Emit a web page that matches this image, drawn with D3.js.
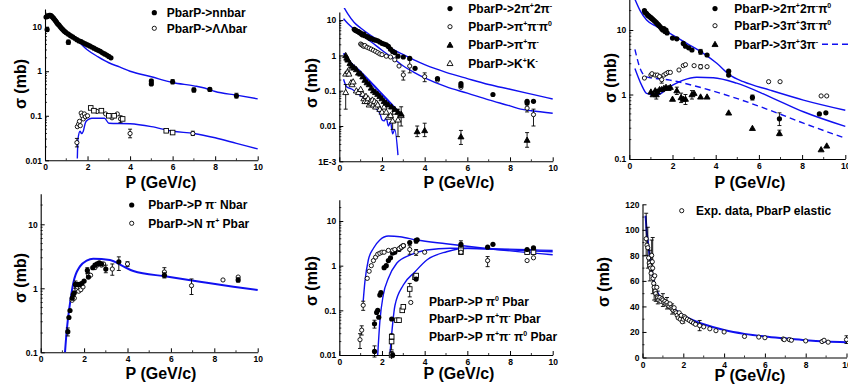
<!DOCTYPE html>
<html>
<head>
<meta charset="utf-8">
<script src="https://cdn.jsdelivr.net/npm/d3@7"></script>
<style>
body { margin: 0; background: #fff; }
svg { display: block; }
text { font-family: "Liberation Sans", Arial, sans-serif; font-weight: bold; fill: #000; }
</style>
</head>
<body>
<svg id="chart" width="848" height="391"></svg>
<script>
// ---- data: [P (GeV/c), sigma (mb), errLo?, errHi?] ----

// panel 1: nnbar and Lambda-Lambdabar
const nnbarData = [
  [0.05,16.5],[0.1,17],[0.15,17.5],[0.2,18],[0.25,18],[0.3,17.5],[0.35,16.5],[0.4,15.5],[0.45,14.5],[0.5,13.5],
  [0.55,12.5],[0.6,11.5],[0.65,11],[0.7,10.2],[0.75,9.6],[0.8,9],[0.85,8.5],[0.9,8],[0.95,7.7],[1.0,7.3],
  [1.1,6.8],[1.2,6.3],[1.3,5.9],[1.4,5.5],[1.5,5.1],[1.6,4.8],[1.7,4.6],[1.8,4.35],[1.9,4.1],[2.0,3.9],
  [2.1,3.7],[2.2,3.5],[2.3,3.3],[2.4,3.1],[2.5,2.95],[2.6,2.8],[2.7,2.6],[2.8,2.45],[2.9,2.3],[3.0,2.15],[3.1,2.0],
  [0.1,8.6,7.8,9.5],[1.1,4.5,4.0,5.0],[5.0,0.6,0.55,0.66],[5.0,0.52],[6.0,0.58,0.52,0.65],[7.0,0.38,0.34,0.42],
  [7.75,0.39,0.36,0.42],[9.0,0.28,0.25,0.32]
];
const nnbarTheory = [
  [0.05,15.5],[0.2,17.5],[0.3,17],[0.5,13],[0.7,10],[1.0,7.2],[1.3,5.8],[1.6,4.5],[2.0,3.0],[2.5,2.1],
  [3.0,1.55],[3.5,1.25],[4.0,1.0],[5.0,0.75],[6.0,0.56],[7.0,0.47],[7.5,0.42],[8.0,0.35],[9.0,0.29],[10,0.24]
];
const llbarData = [
  [1.5,0.025,0.02,0.031],[1.52,0.057],[1.58,0.065],[1.62,0.075],[1.66,0.06],[1.7,0.115],[1.75,0.1],[1.8,0.085],
  [1.85,0.11],[1.9,0.095],[2.0,0.1],[2.45,0.125],[2.85,0.11],[3.15,0.09],[3.4,0.11],[3.55,0.085,0.07,0.1],
  [4.0,0.04,0.032,0.05],[6.95,0.04,0.036,0.045]
];
const llbarSqData = [
  [2.15,0.15],[2.3,0.13],[2.65,0.13],[3.0,0.1],[3.25,0.1],[3.65,0.085],[5.7,0.046],[6.0,0.042]
];
const llbarTheory = [
  [1.52,0.011],[1.55,0.03],[1.65,0.045],[1.72,0.04],[1.8,0.045],[1.9,0.07],[2.0,0.08],[2.2,0.088],[2.5,0.088],
  [2.8,0.088],[3.0,0.068],[4.0,0.066],[5.0,0.057],[6.0,0.045],[7.0,0.04],[8.0,0.032],[9.0,0.024],[10,0.018]
];

// panel 2: 2pi+2pi-, pi+pi-pi0, pi+pi-, K+K-
const pi4Data = [
  [0.7,5.5],[0.75,5.2],[0.8,5.0],[0.85,4.8],[0.9,4.7],[0.95,4.4],[1.0,4.3],[1.05,4.0],[1.1,3.8],[1.15,4.0],
  [1.2,3.6],[1.3,3.4],[1.35,3.3],[1.4,3.1],[1.45,3.0],[1.5,3.0],[1.6,2.8],[1.7,2.7],[1.8,2.6],[1.9,2.4],
  [2.0,2.2],[2.1,2.1],[2.2,2.0],[2.3,1.8],[2.4,1.5],[2.5,1.3],[2.6,1.2],[2.75,0.95],[3.0,0.9],[3.3,0.82],
  [3.55,0.43],[4.6,0.22],[5.7,0.16],[5.7,0.14],[7.2,0.078],[8.8,0.05],[8.8,0.045],[9.1,0.05]
];
const pi4Theory = [
  [0.2,24],[0.4,15],[0.7,8.5],[1.0,6],[1.5,3.6],[2.0,2.3],[2.5,1.5],[3.0,1.05],[3.5,0.75],[4.0,0.55],
  [4.5,0.42],[5.0,0.33],[6.0,0.22],[7.0,0.15],[8.0,0.11],[9.0,0.08],[10,0.058]
];
const pi3Data = [
  [1.0,2.1],[1.05,2.0],[1.1,1.9],[1.15,1.8],[1.2,1.9],[1.3,1.7],[1.4,1.6],[1.5,1.5],[1.6,1.4],[1.7,1.3],
  [1.8,1.2],[1.9,1.1],[2.0,1.05],[2.2,0.95],[2.4,0.9],[2.6,0.75],[2.8,0.5],[3.0,0.28,0.2,0.36],[3.3,0.5,0.32,0.75],
  [4.0,0.25,0.18,0.32],[4.6,0.2],[5.7,0.125],[8.8,0.032,0.025,0.04],[9.1,0.021,0.01,0.03]
];
const pi3Theory = [
  [0.2,11],[0.4,8],[0.7,5.5],[1.0,4],[1.5,2.4],[2.0,1.4],[2.5,0.85],[3.0,0.5],[3.5,0.33],[4.0,0.23],
  [5.0,0.13],[6.0,0.085],[7.0,0.055],[8.0,0.037],[8.5,0.03],[9.0,0.027],[10,0.023]
];
const pipiData = [
  [0.3,1.0],[0.35,0.85],[0.4,0.75],[0.5,0.6],[0.6,0.5],[0.7,0.45],[0.8,0.4],[0.9,0.32],[1.0,0.3],[1.1,0.25],
  [1.2,0.2],[1.3,0.17],[1.4,0.15],[1.5,0.12],[1.6,0.1],[1.7,0.09],[1.8,0.08],[1.9,0.07],[2.0,0.06],[2.1,0.05],
  [2.2,0.045],[2.3,0.04],[2.45,0.035],[2.6,0.03],[2.75,0.025],[2.9,0.022],
  [3.65,0.007,0.005,0.01],[4.0,0.0075,0.005,0.012],[5.7,0.005,0.003,0.0075],[8.8,0.004,0.0025,0.0065]
];
const pipiTheory = [
  [0.2,1.15],[0.5,0.66],[1.0,0.34],[1.45,0.18],[1.9,0.093],[2.4,0.044],[3.0,0.018]
];
const kkData = [
  [0.3,0.09,0.03,0.15],[0.3,0.3],[0.4,0.35],[0.45,0.3],[0.5,0.45],[0.55,0.17],[0.6,0.15],[0.65,0.18],[0.8,0.1],
  [0.9,0.09],[1.0,0.11],[1.1,0.08],[1.15,0.06],[1.2,0.05],[1.25,0.07],[1.3,0.05],[1.35,0.06],[1.4,0.04],
  [1.45,0.05],[1.5,0.045],[1.55,0.055],[1.6,0.04],[1.65,0.05],[1.7,0.035],[1.75,0.045],[1.8,0.04],[1.9,0.03],
  [2.0,0.025],[2.1,0.035],[2.2,0.025],[2.3,0.018],[2.4,0.02],[2.5,0.014,0.008,0.035],[2.6,0.025],
  [2.75,0.015,0.005,0.03],[2.9,0.02,0.01,0.035]
];
const kkTheory = [
  [0.2,0.21],[0.34,0.13],[0.6,0.11],[0.97,0.075],[1.28,0.055],[1.6,0.035],[1.9,0.023],[2.0,0.015],[2.1,0.014],
  [2.2,0.017],[2.3,0.01],[2.4,0.013],[2.5,0.006],[2.6,0.008],[2.75,0.0015]
];

// panel 3: 2pi+2pi-pi0, 3pi+3pi-pi0, 3pi+3pi-
const pi5Data = [
  [0.7,20],[0.72,19],[0.75,18.5],[0.8,18],[0.85,17],[0.9,16.5],[0.95,16],[1.0,15.5],[1.05,15],[1.1,14.5],
  [1.15,14],[1.2,13.5],[1.25,13],[1.3,12.5],[1.35,12],[1.4,11.5],[1.45,11],[1.5,10.5],[1.55,10],[1.6,10.5],
  [1.65,9.5],[1.7,10],[1.75,9],[2.0,7.5],[2.2,7.3],[2.5,6.2],[2.6,5.6],[2.75,5.3],[2.9,4.9],[3.3,4.6,4.2,5.0],
  [3.6,4.1],[4.6,2.3],[4.6,2.0],[5.7,0.9,0.82,0.98],[6.95,0.42,0.33,0.52],[8.8,0.5],[9.1,0.52]
];
const pi5Theory = [
  [0.26,30],[0.5,20],[0.8,14.3],[1.27,11.3],[1.88,8.9],[2.66,6.2],[3.43,4.35],[4.05,3.05],[4.66,2.0],
  [5.28,1.58],[6.51,1.17],[8.06,0.82],[10,0.57]
];
const pi7Data = [
  [0.7,1.8],[1.0,2.0],[1.05,2.1],[1.2,2.0],[1.3,2.0],[1.4,1.9],[1.5,1.7,1.5,1.9],[1.6,2.0],[1.7,2.1],[1.8,2.2],
  [1.9,2.2],[2.3,2.4],[2.5,2.8],[2.6,2.9],[3.0,2.8],[3.3,2.7,2.5,2.9],[3.6,2.7],[6.45,1.58],[6.98,1.58],
  [8.88,0.95],[9.14,0.95]
];
const pi7Theory = [
  [0.26,2.54],[0.57,1.4],[0.8,1.04],[1.27,0.98],[1.88,1.32],[2.5,1.67],[3.12,1.85],[3.89,1.82],[4.97,1.5],
  [6.51,0.92],[8.06,0.54],[10,0.32]
];
const pi6Data = [
  [1.0,1.1],[1.1,1.0],[1.2,1.15],[1.25,1.0,0.85,1.2],[1.3,1.1],[1.4,1.2],[1.5,1.2],[1.6,1.25],[1.7,1.3],
  [1.8,1.25],[1.9,1.3],[2.0,0.85],[2.2,1.15,1.0,1.3],[2.4,0.9,0.75,1.05],[2.5,0.85],[2.6,0.85,0.7,1.0],
  [2.9,1.0,0.85,1.15],[3.0,1.05],[3.3,0.92],[3.6,0.92],[4.6,0.52],[5.7,0.3],[6.95,0.25,0.23,0.28],
  [8.88,0.14],[9.14,0.16]
];
const pi6Theory = [
  [0.26,5.0],[0.5,2.54],[0.8,1.88],[1.88,1.67],[3.43,1.25],[4.97,0.87],[6.51,0.57],[8.06,0.36],[10,0.21]
];

// panel 4: P pi- Nbar, N pi+ Pbar
const ppimData = [
  [1.25,0.21,0.18,0.24],[1.3,0.35],[1.35,0.45],[1.45,0.7],[1.5,0.8],[1.55,0.85],[1.6,1.15,1.0,1.3],[1.7,1.15],
  [1.8,1.15],[1.9,1.2],[2.0,1.3],[2.15,1.9,1.7,2.1],[2.2,1.5],[2.4,2.1],[2.5,2.3],[2.6,2.4],[2.7,2.5],[2.8,2.4],
  [3.0,2.0,1.75,2.3],[3.6,2.6,1.9,3.1],[5.7,1.6,1.45,1.75],[9.1,1.35,1.25,1.45]
];
const npipData = [
  [1.45,0.65],[1.55,0.7],[1.65,1.0],[1.75,0.9],[1.85,0.95],[1.95,1.05],[2.2,1.65],[2.3,1.6],[2.5,2.1],
  [2.6,2.3],[2.8,2.3],[2.9,2.4],[3.3,2.0,1.6,2.4],[4.0,2.4,2.2,2.6],[5.7,1.8,1.5,2.1],[6.95,1.1,0.8,1.4],
  [8.4,1.35],[9.1,1.5]
];
const piNTheory = [
  [1.12,0.1],[1.2,0.22],[1.35,0.58],[1.5,1.2],[1.81,2.2],[2.12,2.7],[2.42,2.9],[3.19,2.77],[3.81,2.2],
  [4.27,1.86],[5.8,1.53],[7.34,1.27],[8.88,1.06],[10,0.94]
];

// panel 5: P pi0 Pbar, P pi+pi- Pbar, P pi+pi-pi0 Pbar
const ppi0Data = [
  [0.97,0.022,0.014,0.03],[1.05,0.036,0.028,0.045],[1.12,0.13,0.1,0.16],[1.31,0.52],[1.4,0.75],[1.5,1.0],
  [1.6,1.3],[1.7,1.55],[1.8,1.8],[1.9,1.9],[2.0,2.0],[2.1,2.0],[2.3,2.2],[2.5,2.2],[2.6,2.3],[2.8,2.4],[2.9,2.6],
  [3.0,2.8],[3.3,2.3,1.8,2.8],[3.35,0.15],[3.6,2.0,1.7,2.3],[4.0,2.0],[5.7,2.0],[6.95,1.3,0.95,1.6],[8.8,1.3],[9.1,1.5]
];
const ppipiData = [
  [1.65,0.012,0.009,0.016],[1.65,0.05,0.04,0.06],[1.75,0.09],[1.8,0.1],[1.85,0.07],[1.9,0.22],[1.95,0.25],
  [2.1,0.9],[2.2,1.0],[2.3,1.3],[2.4,1.5],[2.5,1.9],[2.6,2.0],[2.8,2.3],[2.9,2.6],[3.0,2.8],[3.3,3.3],
  [3.6,3.6,3.2,4.0],[3.65,3.8],[3.6,0.5],[5.7,3.0,2.5,3.6],[6.95,2.6],[7.2,3.0],[8.8,2.3],[9.1,2.5],[2.5,0.01]
];
const ppipipi0Data = [
  [2.45,0.01,0.008,0.012],[2.45,0.02,0.013,0.03],[2.7,0.06],[2.8,0.06],[2.95,0.1],[3.0,0.12],[3.3,0.3,0.2,0.4],
  [3.55,0.55,0.5,0.65],[3.6,0.6],[5.7,2.0],[5.7,2.4],[8.8,2.0],[9.1,2.0]
];
const ppi0Theory = [
  [1.12,0.16],[1.2,0.44],[1.36,1.34],[1.6,2.45],[1.9,3.75],[2.3,4.6],[2.84,4.45],[3.63,3.75],[5.0,3.1],
  [7.0,2.4],[10,1.75]
];
const ppipiTheory = [
  [1.8,0.01],[1.9,0.056],[2.06,0.22],[2.3,0.52],[2.69,1.13],[3.31,1.73],[4.1,2.24],[5.2,2.45],[7.0,2.4],[10,2.2]
];
const ppipipi0Theory = [
  [2.37,0.01],[2.61,0.13],[3.0,0.37],[3.55,0.73],[4.1,1.34],[5.03,2.05],[6.0,2.45],[7.5,2.3],[10,2.05]
];

// panel 6: elastic
const elasticData = [
  [0.18,93,80,113],[0.22,88],[0.26,86,70,102],[0.3,78],[0.33,74],[0.36,72,60,84],[0.4,70],[0.42,66],
  [0.45,80,68,92],[0.48,75],[0.5,70,50,94],[0.52,62],[0.55,58],[0.57,55,45,65],[0.6,64],[0.62,52],
  [0.65,50,44,56],[0.7,55],[0.72,48],[0.75,47,42,52],[0.8,45],[0.85,47],[0.9,44],[0.95,46],[1.0,45,40,50],
  [1.05,43],[1.1,44],[1.15,42],[1.2,43,38,47],[1.25,41],[1.3,40],[1.35,42],[1.4,39],[1.45,38,34,42],[1.5,37],
  [1.55,39],[1.6,36],[1.65,35],[1.7,33],[1.75,31],[1.8,35],[1.85,30],[1.9,33],[1.95,28],[2.0,30,27,33],
  [2.05,32],[2.1,31],[2.2,30],[2.3,29],[2.4,28],[2.5,27],[2.6,26],[2.8,25,21,29],[3.0,24],[3.3,22.5],
  [3.6,21],[4.0,20],[5.0,16.5],[5.7,16],[6.0,15.5],[6.9,14.5],[6.95,14],[7.2,14],[7.3,13.5],[8.0,13],
  [8.8,12.5],[8.9,13.5],[9.1,12],[10,14,11,17]
];
const elasticTheory = [
  [0.15,111],[0.2,100],[0.3,86],[0.4,74],[0.5,64],[0.6,56],[0.8,49],[1.0,45],[1.5,38.5],[2.0,33],[2.5,29],
  [3.0,26],[4.0,21.5],[5.0,18.5],[6.0,16.5],[7.0,15],[8.0,13.6],[9.0,12.6],[10,12]
];

const xTicks = [0, 2, 4, 6, 8, 10];

// ---- layout per panel ----
const BLUE = "#1010f0";
const panels = [
  { xr: [45, 257.7], log: true, ya: [[0.01, 160.3], [10, 26.7]], ymax: 25,
    yTicks: [0.01, 0.1, 1, 10], yFmt: d => String(d),
    xTitle: [161, 182], yTitle: [20, 84],
    curves: [{ d: nnbarTheory }, { d: llbarTheory }],
    series: [{ d: nnbarData, m: "fc" }, { d: llbarData, m: "oc" }, { d: llbarSqData, m: "os" }],
    legend: { mx: 154.3, tx: 166.7, rows: [[12.7, "fc", "PbarP->nnbar"], [28.3, "oc", "PbarP->ΛΛbar"]] } },
  { xr: [339.3, 552.7], log: true, ya: [[0.001, 161.3], [10, 20.1]], ymax: 17,
    yTicks: [0.001, 0.01, 0.1, 1, 10], yFmt: d => d === 0.001 ? "1E-3" : String(d),
    xTitle: [459, 182], yTitle: [311.7, 83],
    curves: [{ d: pi4Theory }, { d: pi3Theory }, { d: pipiTheory, w: 2 }, { d: kkTheory }],
    series: [{ d: kkData, m: "ot" }, { d: pipiData, m: "ft" }, { d: pi3Data, m: "oc" }, { d: pi4Data, m: "fc" }],
    legend: { mx: 450, tx: 468.3, rows: [[8.6, "fc", "PbarP->2π^+2π^-"], [26.7, "oc", "PbarP->π^+π^-π^0"],
      [45, "ft", "PbarP->π^+π^-"], [63.3, "ot", "PbarP->K^+K^-"]] } },
  { xr: [629.3, 845.3], log: true, ya: [[0.1, 159], [10, 30]], ymax: 30,
    yTicks: [0.1, 1, 10], yFmt: d => String(d),
    xTitle: [750, 182], yTitle: [610, 78],
    curves: [{ d: pi5Theory }, { d: pi7Theory }, { d: pi6Theory, dash: "6,4" }],
    series: [{ d: pi6Data, m: "ft" }, { d: pi7Data, m: "oc" }, { d: pi5Data, m: "fc" }],
    legend: { mx: 715, tx: 734.3, dashLine: [822, 848, 44.3],
      rows: [[8.6, "fc", "PbarP->2π^+2π^-π^0"], [25.7, "oc", "PbarP->3π^+3π^-π^0"], [44.3, "ft", "PbarP->3π^+3π^-"]] } },
  { xr: [40.7, 257.7], log: true, ya: [[0.1, 352.3], [10, 224.3]], ymax: 30,
    yTicks: [0.1, 1, 10], yFmt: d => String(d),
    xTitle: [161, 373], yTitle: [20, 278],
    curves: [{ d: piNTheory, w: 2 }],
    series: [{ d: npipData, m: "oc" }, { d: ppimData, m: "fc" }],
    legend: { mx: 131.7, tx: 148.3, rows: [[205, "fc", "PbarP->P π^- Nbar"], [223.3, "oc", "PbarP->N π^+ Pbar"]] } },
  { xr: [339.3, 552.7], log: true, ya: [[0.01, 355], [10, 221]], ymax: 30,
    yTicks: [0.01, 0.1, 1, 10], yFmt: d => String(d),
    xTitle: [459, 373], yTitle: [311.7, 281],
    curves: [{ d: ppi0Theory }, { d: ppipiTheory }, { d: ppipipi0Theory }],
    series: [{ d: ppipipi0Data, m: "os" }, { d: ppipiData, m: "fc" }, { d: ppi0Data, m: "oc" }],
    legend: { mx: 391.7, tx: 429, rows: [[301.7, null, "PbarP->P π^0 Pbar"], [319, "fc", "PbarP->P π^+π^- Pbar"],
      [336.7, "os", "PbarP->P π^+π^- π^0 Pbar"]] } },
  { xr: [642.5, 846.5], log: false, yr: [357.5, 204.3], ymax: 120,
    yTicks: [0, 20, 40, 60, 80, 100, 120], yFmt: d => String(d),
    xTitle: [750, 375], yTitle: [603, 282],
    curves: [{ d: elasticTheory, w: 2 }],
    series: [{ d: elasticData, m: "oc" }],
    legend: { mx: 681.7, tx: 696, rows: [[210.7, "oc", "Exp. data, PbarP elastic"]] } }
];

const svg = d3.select("#chart");

function drawMarker(g, m, cx, cy) {
  if (m === "fc") {
    g.append("circle").attr("cx", cx).attr("cy", cy).attr("r", 2.6).attr("fill", "#000");
  } else if (m === "oc") {
    g.append("circle").attr("cx", cx).attr("cy", cy).attr("r", 2.1)
      .attr("fill", "#fff").attr("stroke", "#000").attr("stroke-width", 0.9);
  } else if (m === "os") {
    g.append("rect").attr("x", cx - 2.3).attr("y", cy - 2.3).attr("width", 4.6).attr("height", 4.6)
      .attr("fill", "#fff").attr("stroke", "#000").attr("stroke-width", 0.9);
  } else if (m === "ft" || m === "ot") {
    const s = 3;
    g.append("path").attr("d", `M${cx},${cy - s}L${cx + s},${cy + s * 0.75}L${cx - s},${cy + s * 0.75}Z`)
      .attr("fill", m === "ft" ? "#000" : "#fff").attr("stroke", "#000").attr("stroke-width", 0.9);
  }
}

function richText(t, str) {
  // "^x" puts x as superscript; baseline of the text itself is set on the parent via y
  const parts = str.split(/(\^.)/).filter(p => p.length);
  let raised = false;
  parts.forEach(p => {
    if (p[0] === "^") {
      t.append("tspan").attr("font-size", 7).attr("dy", raised ? null : -5).text(p[1]);
      raised = true;
    } else {
      t.append("tspan").attr("dy", raised ? 5 : null).text(p);
      raised = false;
    }
  });
}

panels.forEach((cfg, i) => {
  const g = svg.append("g").attr("class", "panel");
  const x = d3.scaleLinear().domain([0, 10]).range(cfg.xr);
  let y;
  if (cfg.log) {
    const base = d3.scaleLog().domain([cfg.ya[0][0], cfg.ya[1][0]]).range([cfg.ya[0][1], cfg.ya[1][1]]);
    y = d3.scaleLog().domain([cfg.ya[0][0], cfg.ymax]).range([cfg.ya[0][1], base(cfg.ymax)]);
  } else {
    y = d3.scaleLinear().domain([0, cfg.ymax]).range(cfg.yr);
  }
  const bottom = y.range()[0], top = y.range()[1];

  // minor ticks
  const minorX = d3.range(1, 10, 2);
  g.selectAll("line.mx").data(minorX).enter().append("line")
    .attr("x1", d => x(d)).attr("x2", d => x(d)).attr("y1", bottom).attr("y2", bottom - 2)
    .attr("stroke", "#000").attr("stroke-width", 0.8);
  let minorY;
  if (cfg.log) {
    minorY = [];
    cfg.yTicks.forEach(t => { for (let k = 2; k <= 9; k++) if (t * k < cfg.ymax) minorY.push(t * k); });
  } else {
    minorY = d3.range(10, cfg.ymax, 20);
  }
  g.selectAll("line.my").data(minorY).enter().append("line")
    .attr("x1", cfg.xr[0]).attr("x2", cfg.xr[0] + 2).attr("y1", d => y(d)).attr("y2", d => y(d))
    .attr("stroke", "#000").attr("stroke-width", 0.8);

  // axes
  const ax = g.append("g").attr("transform", `translate(0,${bottom})`)
    .call(d3.axisBottom(x).tickValues(xTicks).tickFormat(d3.format("d")).tickSizeInner(-4).tickSizeOuter(0).tickPadding(4));
  const ay = g.append("g").attr("transform", `translate(${cfg.xr[0]},0)`)
    .call(d3.axisLeft(y).tickValues(cfg.yTicks).tickFormat(cfg.yFmt).tickSizeInner(-4).tickSizeOuter(0).tickPadding(3));
  [ax, ay].forEach(a => {
    a.select(".domain").attr("stroke-width", 1.1);
    a.selectAll("text").attr("font-size", 8.5).attr("font-family", null);
  });

  // titles
  g.append("text").attr("x", cfg.xTitle[0]).attr("y", cfg.xTitle[1]).attr("dy", "0.35em")
    .attr("text-anchor", "middle").attr("font-size", 16).text("P (GeV/c)");
  g.append("text").attr("transform", `translate(${cfg.yTitle[0]},${cfg.yTitle[1]}) rotate(-90)`)
    .attr("dy", "0.35em").attr("text-anchor", "middle").attr("font-size", 16).text("σ (mb)");

  // clip
  const cid = "clip" + i;
  g.append("clipPath").attr("id", cid).append("rect")
    .attr("x", cfg.xr[0] - 4).attr("y", top - 4).attr("width", cfg.xr[1] - cfg.xr[0] + 8)
    .attr("height", bottom - top + 8);
  const plot = g.append("g").attr("clip-path", `url(#${cid})`);

  // theory curves
  const line = d3.line().x(d => x(d[0])).y(d => y(d[1])).curve(d3.curveMonotoneX);
  cfg.curves.forEach(c => {
    plot.append("path").datum(c.d).attr("d", line).attr("fill", "none")
      .attr("stroke", BLUE).attr("stroke-width", c.w || 1.4)
      .attr("stroke-dasharray", c.dash || null);
  });

  // data with error bars
  cfg.series.forEach(s => {
    const sg = plot.append("g");
    s.d.filter(p => p.length === 4).forEach(p => {
      const px = x(p[0]);
      sg.append("path")
        .attr("d", `M${px},${y(p[2])}V${y(p[3])}M${px - 2},${y(p[2])}H${px + 2}M${px - 2},${y(p[3])}H${px + 2}`)
        .attr("stroke", "#000").attr("stroke-width", 0.9).attr("fill", "none");
    });
    s.d.forEach(p => drawMarker(sg, s.m, x(p[0]), y(p[1])));
  });

  // legend (text baseline = row centre + 4)
  const lg = g.append("g");
  cfg.legend.rows.forEach(r => {
    if (r[1]) drawMarker(lg, r[1], cfg.legend.mx, r[0]);
    const t = lg.append("text").attr("x", cfg.legend.tx).attr("y", r[0] + 4.2).attr("font-size", 12);
    richText(t, r[2]);
  });
  if (cfg.legend.dashLine) {
    const dl = cfg.legend.dashLine;
    lg.append("line").attr("x1", dl[0]).attr("x2", dl[1]).attr("y1", dl[2]).attr("y2", dl[2])
      .attr("stroke", BLUE).attr("stroke-width", 1.4).attr("stroke-dasharray", "6,4");
  }
});
</script>
</body>
</html>
